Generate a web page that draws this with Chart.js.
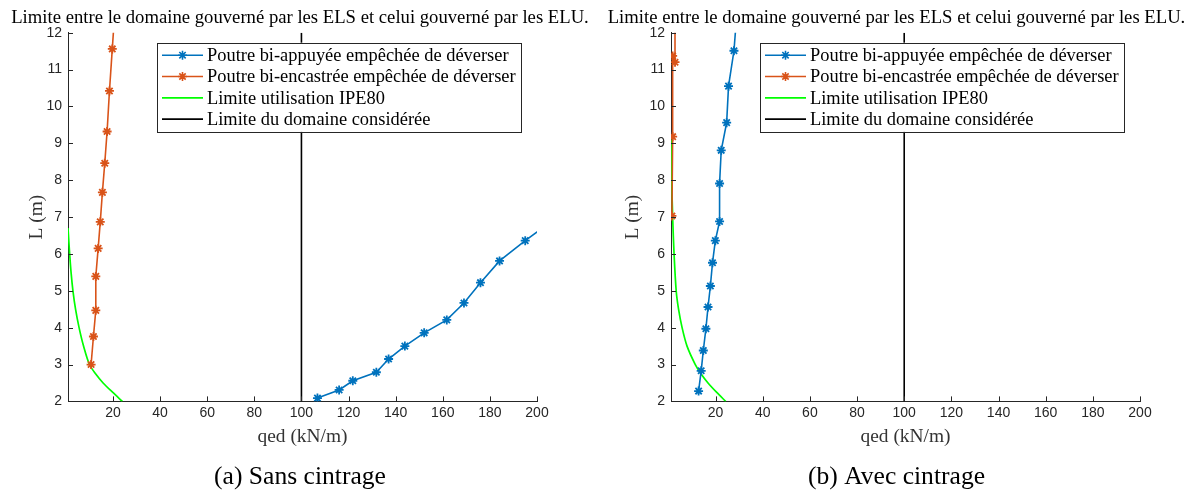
<!DOCTYPE html>
<html>
<head>
<meta charset="utf-8">
<script src="https://cdn.jsdelivr.net/npm/chart.js@4/dist/chart.umd.min.js"></script>
<style>
html, body { margin: 0; padding: 0; background: #fff; }
#wrap { position: relative; width: 1193px; height: 490px; overflow: hidden; }
canvas { position: absolute; top: 0; }
#left { left: 0; }
#right { left: 600px; }
</style>
</head>
<body>
<div id="wrap">
  <canvas id="left" width="600" height="490"></canvas>
  <canvas id="right" width="593" height="490"></canvas>
</div>
<script>
// texts
var titleText = 'Limite entre le domaine gouverné par les ELS et celui gouverné par les ELU.';
var xLabel = 'qed (kN/m)';
var yLabel = 'L (m)';
var captions = ['(a) Sans cintrage', '(b) Avec cintrage'];
var seriesLabels = ['Poutre bi-appuyée empêchée de déverser', 'Poutre bi-encastrée empêchée de déverser',
                    'Limite utilisation IPE80', 'Limite du domaine considérée'];
var xTicks = [20, 40, 60, 80, 100, 120, 140, 160, 180, 200];
var yTicks = [2, 3, 4, 5, 6, 7, 8, 9, 10, 11, 12];

// (a) sans cintrage
var leftAppuyeeQ = [106.8, 116.0, 121.8, 131.8, 137.0, 143.9, 152.1, 161.7, 169.0, 176.0, 184.1, 195.0, 206.0];
var leftAppuyeeL = [2.09, 2.31, 2.56, 2.79, 3.15, 3.50, 3.86, 4.21, 4.67, 5.22, 5.81, 6.36, 6.88];
var leftEncastreeQ = [10.7, 11.7, 12.7, 12.7, 13.7, 14.6, 15.5, 16.5, 17.5, 18.5, 19.7, 20.9];
var leftEncastreeL = [3.00, 3.76, 4.47, 5.39, 6.15, 6.87, 7.67, 8.46, 9.32, 10.42, 11.56, 12.70];
var leftIpeQ = [24.0, 19.8, 15.8, 12.6, 10.0, 7.5, 5.6, 4.1, 3.0, 2.2, 1.6, 1.1, 0.9];
var leftIpeL = [2.0, 2.25, 2.5, 2.75, 3.0, 3.5, 4.0, 4.5, 5.0, 5.5, 6.0, 6.5, 6.7];

// (b) avec cintrage
var rightAppuyeeQ = [12.8, 13.9, 14.8, 15.9, 16.8, 17.8, 18.7, 19.9, 21.7, 21.7, 22.4, 24.7, 25.5, 27.8, 29.0];
var rightAppuyeeL = [2.28, 2.83, 3.38, 3.97, 4.56, 5.13, 5.76, 6.36, 6.88, 7.91, 8.81, 9.56, 10.55, 11.51, 12.5];
var rightEncastreeQ = [1.5, 1.8, 1.8, 2.8, 2.8];
var rightEncastreeL = [7.03, 9.18, 11.37, 11.2, 12.6];
var rightIpeQ = [24.3, 20.4, 16.8, 13.8, 11.4, 7.9, 5.8, 4.3, 3.3, 2.4, 1.8, 1.4, 1.1];
var rightIpeL = [2.0, 2.25, 2.5, 2.75, 3.0, 3.5, 4.0, 4.5, 5.0, 6.0, 7.0, 8.0, 9.1];

var limitQ = [100, 100];
var limitL = [2, 12];

var colors = ['#0072BD', '#D95319', '#00FF00', '#000000'];
var serif = "'Liberation Serif', serif";
var sans = "'Liberation Sans', Arial, sans-serif";
var axisColor = '#262626';

// font size so that a text gets the width it has in the figure
var measureCtx = document.createElement('canvas').getContext('2d');
function fitSize(text, width) {
  measureCtx.font = '100px ' + serif;
  return 100 * width / measureCtx.measureText(text).width;
}
var titleSize = fitSize(titleText, 578);
var legendSize = fitSize(seriesLabels[1], 309);
var captionSize = fitSize(captions[0], 172);
var labelSize = fitSize(xLabel, 90);

var areaBottom = 401.4;
var captionPadTop = 5;
var xScaleH = 490 - areaBottom - captionSize - captionPadTop;

function pts(qs, ls) {
  return qs.map(function(q, i) { return {x: q, y: ls[i]}; });
}

// small ticks pointing inside the axes, like matlab
var inwardTicks = {
  id: 'inwardTicks',
  afterDatasetsDraw: function(chart) {
    var ctx = chart.ctx, a = chart.chartArea;
    var xs = chart.scales.x, ys = chart.scales.y;
    ctx.save();
    ctx.strokeStyle = axisColor;
    ctx.lineWidth = 1;
    ctx.beginPath();
    xTicks.forEach(function(v) {
      var p = Math.round(xs.getPixelForValue(v)) + 0.5;
      ctx.moveTo(p, a.bottom);
      ctx.lineTo(p, a.bottom - 5);
    });
    yTicks.forEach(function(v) {
      var p = Math.round(ys.getPixelForValue(v)) + 0.5;
      ctx.moveTo(a.left, p);
      ctx.lineTo(a.left + 5, p);
    });
    ctx.stroke();
    ctx.restore();
  }
};

// legend box inside the axes
var boxLegend = {
  id: 'boxLegend',
  afterDatasetsDraw: function(chart) {
    var ctx = chart.ctx, a = chart.chartArea;
    var x0 = a.left + 89, y0 = a.top + 10;
    var rowH = 21.3;
    ctx.save();
    ctx.font = legendSize + 'px ' + serif;
    var maxW = 0;
    chart.data.datasets.forEach(function(d) {
      maxW = Math.max(maxW, ctx.measureText(d.label).width);
    });
    var w = 50 + maxW + 5, h = rowH * 4 + 4;
    ctx.fillStyle = '#fff';
    ctx.fillRect(x0, y0, w, h);
    ctx.strokeStyle = axisColor;
    ctx.lineWidth = 1;
    ctx.strokeRect(Math.round(x0) + 0.5, Math.round(y0) + 0.5, Math.round(w), Math.round(h));
    chart.data.datasets.forEach(function(d, i) {
      var cy = y0 + 12.5 + i * rowH;
      ctx.strokeStyle = d.borderColor;
      ctx.lineWidth = d.borderWidth;
      ctx.beginPath();
      ctx.moveTo(x0 + 5, cy);
      ctx.lineTo(x0 + 46, cy);
      ctx.stroke();
      if (d.pointRadius > 0) {
        Chart.helpers.drawPoint(ctx, {pointStyle: 'star', radius: d.pointRadius, borderWidth: d.pointBorderWidth}, x0 + 25.5, cy);
      }
      ctx.fillStyle = '#000';
      ctx.textBaseline = 'middle';
      ctx.fillText(d.label, x0 + 50, cy + 1);
    });
    ctx.restore();
  }
};

function makeChart(id, caption, xMin, areaLeft, rightPad, yTitleX, data) {
  var datasets = [
    {label: seriesLabels[0], data: pts(data[0], data[1]), borderColor: colors[0], backgroundColor: colors[0],
     borderWidth: 1.6, pointRadius: 4.5, pointStyle: 'star', pointBorderWidth: 1.8},
    {label: seriesLabels[1], data: pts(data[2], data[3]), borderColor: colors[1], backgroundColor: colors[1],
     borderWidth: 1.6, pointRadius: 4.5, pointStyle: 'star', pointBorderWidth: 1.8},
    {label: seriesLabels[2], data: pts(data[4], data[5]), borderColor: colors[2], backgroundColor: colors[2],
     borderWidth: 1.7, pointRadius: 0, tension: 0.3},
    {label: seriesLabels[3], data: pts(limitQ, limitL), borderColor: colors[3], backgroundColor: colors[3],
     borderWidth: 1.6, pointRadius: 0}
  ];
  var titleTop = 18 - titleSize * 0.6;
  return new Chart(document.getElementById(id), {
    type: 'scatter',
    data: {datasets: datasets},
    options: {
      responsive: false,
      animation: false,
      showLine: true,
      layout: {padding: {left: 0, right: 0, top: 0, bottom: 0}},
      plugins: {
        legend: {display: false},
        tooltip: {enabled: false},
        title: {display: true, text: titleText, color: '#000',
                font: {family: serif, size: titleSize, weight: 'normal', lineHeight: 1.2},
                padding: {top: titleTop, bottom: 32.7 - titleTop - titleSize * 1.2}},
        subtitle: {display: true, position: 'bottom', text: caption, color: '#000',
                   font: {family: serif, size: captionSize, weight: 'normal', lineHeight: 1.0},
                   padding: {top: captionPadTop, bottom: 0}}
      },
      scales: {
        x: {
          type: 'linear', min: xMin, max: 200,
          afterBuildTicks: function(s) { s.ticks = xTicks.map(function(v) { return {value: v}; }); },
          afterFit: function(s) { s.height = xScaleH; },
          grid: {display: false, drawTicks: false},
          border: {display: true, color: axisColor, width: 1},
          ticks: {color: axisColor, padding: 3, maxRotation: 0, font: {family: sans, size: 14}},
          title: {display: true, text: xLabel, color: '#333',
                  font: {family: serif, size: labelSize, lineHeight: 1.2},
                  padding: {top: 0, bottom: areaBottom + xScaleH - 437 - labelSize * 0.6}}
        },
        y: {
          type: 'linear', min: 2, max: 12,
          afterBuildTicks: function(s) { s.ticks = yTicks.map(function(v) { return {value: v}; }); },
          afterFit: function(s) { s.width = areaLeft; },
          grid: {display: false, drawTicks: false},
          border: {display: true, color: axisColor, width: 1},
          ticks: {color: axisColor, padding: 6, font: {family: sans, size: 14}},
          title: {display: true, text: yLabel, color: '#333',
                  font: {family: serif, size: labelSize, lineHeight: 1.2},
                  padding: {top: yTitleX - labelSize * 0.6, bottom: 0}}
        },
        // empty right axis, only keeps the margin on the right of the plot
        y2: {
          position: 'right',
          afterFit: function(s) { s.width = rightPad; },
          grid: {display: false, drawTicks: false},
          border: {display: false},
          ticks: {display: false}
        }
      }
    },
    plugins: [inwardTicks, boxLegend]
  });
}

makeChart('left', captions[0], 0.9, 68, 63, 37,
  [leftAppuyeeQ, leftAppuyeeL, leftEncastreeQ, leftEncastreeL, leftIpeQ, leftIpeL]);
makeChart('right', captions[1], 1.1, 71, 53, 33,
  [rightAppuyeeQ, rightAppuyeeL, rightEncastreeQ, rightEncastreeL, rightIpeQ, rightIpeL]);
</script>
</body>
</html>
